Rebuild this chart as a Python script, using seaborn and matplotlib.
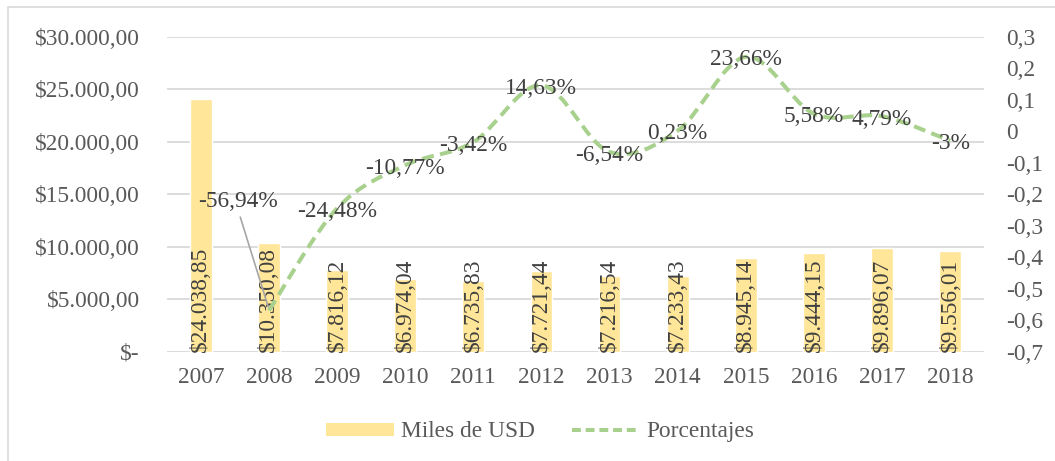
import numpy as np
import pandas as pd
import matplotlib
matplotlib.use("Agg")
import matplotlib.pyplot as plt
import seaborn as sns
from matplotlib.path import Path
from matplotlib.patches import PathPatch, Patch, Rectangle
from matplotlib.lines import Line2D

years = ["2007", "2008", "2009", "2010", "2011", "2012", "2013", "2014", "2015", "2016", "2017", "2018"]
miles_usd = [24038.85, 10350.08, 7816.12, 6974.04, 6735.83, 7721.44, 7216.54, 7233.43, 8945.14, 9444.15, 9896.07, 9556.01]
miles_labels = ["$24.038,85", "$10.350,08", "$7.816,12", "$6.974,04", "$6.735,83", "$7.721,44",
                "$7.216,54", "$7.233,43", "$8.945,14", "$9.444,15", "$9.896,07", "$9.556,01"]
pct_years = years[1:]
porcentajes = [-0.5694, -0.2448, -0.1077, -0.0342, 0.1463, -0.0654, 0.0023, 0.2366, 0.0558, 0.0479, -0.03]
pct_labels = ["-56,94%", "-24,48%", "-10,77%", "-3,42%", "14,63%", "-6,54%", "0,23%", "23,66%", "5,58%", "4,79%", "-3%"]

sns.set_style("white")
plt.rcParams["font.family"] = ["Liberation Serif", "DejaVu Serif"]
FS = 16.8
TXT = "#404040"
TICK = "#595959"
BAR = "#FFE699"
LINE = "#A9D18E"
DASH = (0, (3.0, 1.6))

fig = plt.figure(figsize=(10.55, 4.61), dpi=100)
fig.patches.append(Rectangle((8 / 1055, -0.1), 1.2, 1.1 - 7 / 461, transform=fig.transFigure,
                             fill=False, edgecolor="#D9D9D9", lw=1.2))
ax = fig.add_axes([0.158, 0.237, 0.775, 0.683])

df = pd.DataFrame({"year": years, "miles": miles_usd})
sns.barplot(data=df, x="year", y="miles", color=BAR, saturation=1, width=0.32, ax=ax)
ax.set_xlim(-0.5, len(years) - 0.5)
ax.set_ylim(0, 30000)
ax.set_yticks(np.arange(0, 30001, 5000))
ax.set_yticklabels(["$-"] + ["${:,.2f}".format(v).replace(",", "X").replace(".", ",").replace("X", ".")
                             for v in np.arange(5000, 30001, 5000)])
ax.yaxis.grid(True, color="#D9D9D9", lw=1.3)
ax.set_axisbelow(True)
ax.set_xlabel("")
ax.set_ylabel("")
for s in ax.spines.values():
    s.set_visible(False)
ax.tick_params(axis="y", length=0, pad=19.5, labelsize=FS, labelcolor=TICK)
ax.tick_params(axis="x", length=0, pad=11, labelsize=FS, labelcolor=TICK)

for i, lab in enumerate(miles_labels):
    ax.text(i, 0, lab, rotation=90, ha="center", va="bottom", fontsize=FS, color=TXT)

ax2 = ax.twinx()
ax2.set_ylim(-0.7, 0.3)
ticks = np.round(np.arange(-0.7, 0.31, 0.1), 1)
ax2.set_yticks(ticks)
ax2.set_yticklabels([("0" if abs(t) < 1e-9 else ("%g" % t).replace(".", ",")) for t in ticks])
ax2.tick_params(axis="y", length=0, pad=16, labelsize=FS, labelcolor=TICK)
for s in ax2.spines.values():
    s.set_visible(False)

# smoothed line (Bezier through the data points)
xs = np.array([years.index(y) for y in pct_years], dtype=float)
pts = np.column_stack([xs, np.array(porcentajes)])
n = len(pts)
verts = [pts[0]]
codes = [Path.MOVETO]
for i in range(n - 1):
    p_prev = pts[i - 1] if i > 0 else pts[i]
    p_next2 = pts[i + 2] if i + 2 < n else pts[i + 1]
    c1 = pts[i] + (pts[i + 1] - p_prev) / 6
    c2 = pts[i + 1] - (p_next2 - pts[i]) / 6
    verts += [c1, c2, pts[i + 1]]
    codes += [Path.CURVE4] * 3
ax2.add_patch(PathPatch(Path(verts, codes), fill=False, edgecolor=LINE, lw=2.9,
                        linestyle=DASH, zorder=3))

for i, (x, y, lab) in enumerate(zip(xs, porcentajes, pct_labels)):
    if i == 0:
        ax2.text(x - 0.45, y + 0.345, lab, ha="center", va="center", fontsize=FS, color=TXT, zorder=4)
        ax2.plot([x - 0.42, x - 0.01], [y + 0.297, y + 0.012], color="#A6A6A6", lw=1.2, zorder=4)
    else:
        ax2.text(x, y - 0.01, lab, ha="center", va="center", fontsize=FS, color=TXT, zorder=4)

handles = [Patch(facecolor=BAR, edgecolor="none", label="Miles de USD"),
           Line2D([0], [0], color=LINE, lw=2.9, linestyle=(0, (2.2, 1.2)), label="Porcentajes")]
fig.legend(handles=handles, loc="center", bbox_to_anchor=(0.512, 0.063), ncol=2, frameon=False,
           fontsize=FS, handlelength=2.9, handleheight=0.5, handletextpad=0.3, columnspacing=1.6,
           labelcolor=TICK)

fig.savefig("out.png", dpi=100)
